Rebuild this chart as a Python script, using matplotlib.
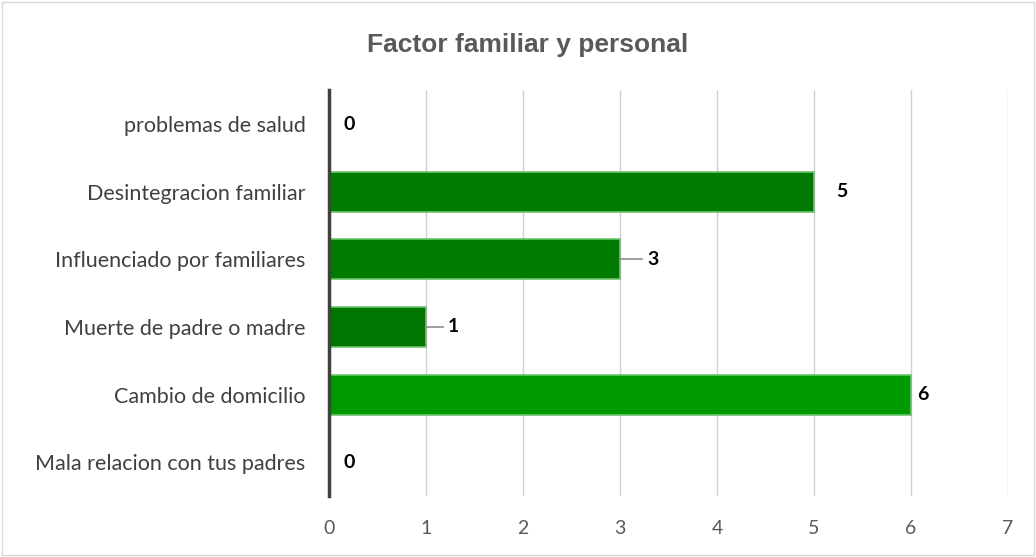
import matplotlib.pyplot as plt
from matplotlib.patches import Rectangle

# Data (top to bottom as shown)
categories = ['problemas de salud', 'Desintegracion familiar', 'Influenciado por familiares',
              'Muerte de padre o madre', 'Cambio de domicilio', 'Mala relacion con tus padres']
values = [0, 5, 3, 1, 6, 0]
bar_colors = ['#008000', '#007A00', '#007A00', '#007600', '#009A00', '#008000']
# label offsets in data units (leader lines for 3 and 1)
label_offsets = [0.15, 0.23, 0.28, 0.22, 0.06, 0.15]
leader = [False, False, True, True, False, False]

plt.rcParams['font.family'] = ['Lato', 'DejaVu Sans']

fig = plt.figure(figsize=(10.36, 5.57), dpi=100)
ax = fig.add_axes([0.3176, 0.1095, 0.6554, 0.7285])

ypos = list(range(len(categories)))[::-1]
ax.barh(ypos, values, height=0.59, color=bar_colors, edgecolor='#6CC36C', linewidth=1.2, zorder=3)

for y, v, off, ld in zip(ypos, values, label_offsets, leader):
    ax.text(v + off, y, str(v), ha='left', va='center', fontsize=14,
            fontweight='bold', color='black', zorder=4)
    if ld:
        ax.plot([v, v + off - 0.05], [y, y], color='#8C8C8C', linewidth=1.2, zorder=4)

ax.set_xlim(0, 7)
ax.set_ylim(-0.5, len(categories) - 0.5)
ax.set_xticks(range(0, 8))
ax.set_yticks(ypos)
ax.set_yticklabels(categories)
ax.tick_params(axis='y', length=0, pad=17, labelsize=15.5, labelcolor='#404040')
ax.tick_params(axis='x', length=0, pad=17, labelsize=14, labelcolor='#595959')
ax.grid(axis='x', color='#D0D0D0', linewidth=1.0, zorder=0)
for s in ['top', 'right', 'bottom']:
    ax.spines[s].set_visible(False)
ax.spines['left'].set_color('#404040')
ax.spines['left'].set_linewidth(2.5)
ax.spines['left'].set_zorder(5)

fig.text(0.509, 0.92, 'Factor familiar y personal', ha='center', va='center',
         fontsize=19, fontweight='bold', color='#595959', family=['Liberation Sans', 'DejaVu Sans'])

fig.patches.append(Rectangle((0.002, 0.003), 0.996, 0.994, transform=fig.transFigure,
                             fill=False, edgecolor='#D9D9D9', linewidth=1.0))

fig.savefig('out.png', dpi=100, facecolor='white')
